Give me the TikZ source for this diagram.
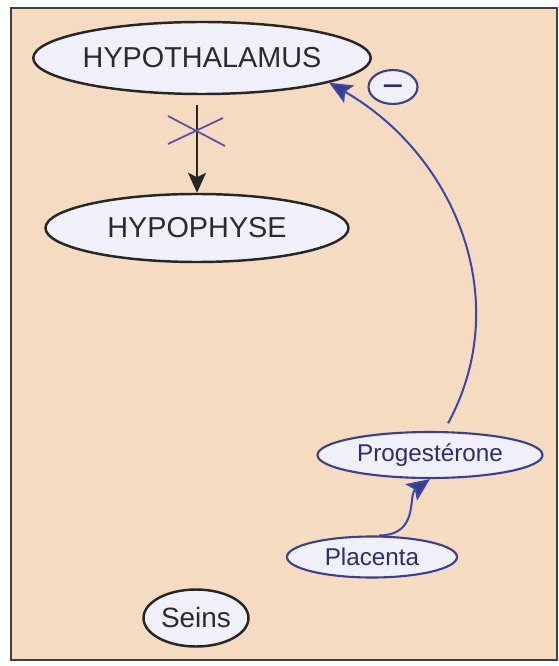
\documentclass[tikz,border=0pt]{standalone}
\usepackage{fontspec}
\setmainfont{Liberation Sans}
\usepackage{xcolor}
\usepackage{tikz}
\usetikzlibrary{arrows.meta,shapes.geometric}
\definecolor{peach}{HTML}{F5DCC0}
\definecolor{ovalfill}{HTML}{EFF0FA}
\definecolor{ovalblue}{HTML}{3D3E8E}
\definecolor{arcblue}{HTML}{3B48A8}
\definecolor{crosspurple}{HTML}{5B4FA6}
\definecolor{inkgray}{HTML}{2B2B2B}

\begin{document}
\begin{tikzpicture}[
    oval/.style={ellipse, draw=black!85, line width=1.4pt, fill=ovalfill,
                 inner sep=0pt, text=inkgray},
    blueoval/.style={oval, draw=ovalblue, line width=1.2pt, text=ovalblue!75!black},
    bigtxt/.style={font=\fontsize{16.4}{18}\selectfont},
    smalltxt/.style={font=\fontsize{13.8}{16}\selectfont},
    bluearrow/.style={draw=arcblue, line width=1.15pt,
                      -{Stealth[length=0.46cm,width=0.4cm,inset=0.09cm,fill=arcblue!85!black]}}
]
    \useasboundingbox (0,0) rectangle (11.16,-13.32);
    % panel
    \fill[white] (0,0) rectangle (11.16,-13.32);
    \draw[fill=peach, draw=black!75, line width=0.9pt] (0.22,-0.16) rectangle (11.14,-13.2);

    % axis hypothalamus -> hypophyse
    \node[oval, bigtxt, minimum width=6.04cm, minimum height=1.44cm] (hypo) at (4.04,-1.16) {HYPOTHALAMUS};
    \node[oval, bigtxt, minimum width=6.06cm, minimum height=1.36cm] (hypoph) at (3.94,-4.56) {HYPOPHYSE};
    \node[blueoval, minimum width=0.98cm, minimum height=0.6cm, text height=0.48cm, text depth=0cm,
          font=\fontsize{21}{21}\selectfont] (minus) at (7.86,-1.74) {−};
    \node[oval, font=\fontsize{15.9}{18}\selectfont, minimum width=2.1cm, minimum height=1.14cm] (seins) at (3.92,-12.36) {Seins};

    % placenta and progesterone
    \node[blueoval, smalltxt, minimum width=4.5cm, minimum height=0.92cm] (prog) at (8.6,-9.1) {Progestérone};
    \node[blueoval, smalltxt, minimum width=3.4cm, minimum height=0.82cm] (plac) at (7.44,-11.14) {Placenta};

    \draw[black!85, line width=0.9pt, shorten <=0.2cm,
          -{Stealth[length=0.4cm,width=0.36cm,inset=0.09cm]}]
        (hypo.south -| hypoph.north) -- (hypoph.north);
    \coordinate (block) at (3.92,-2.62);
    \draw[crosspurple, line width=1pt] (block) +(-0.56,0.3) -- +(0.58,-0.3);
    \draw[crosspurple, line width=1pt] (block) +(-0.56,-0.26) -- +(0.54,0.26);

    % negative feedback
    \draw[bluearrow, shorten <=0.18cm] (prog.60) .. controls (10.3,-6.0) and (9.1,-3.1) .. (hypo.-11);
    \draw[bluearrow] (plac.72) .. controls (8.4,-10.7) and (8.15,-9.9) .. (prog.south);
\end{tikzpicture}
\end{document}
